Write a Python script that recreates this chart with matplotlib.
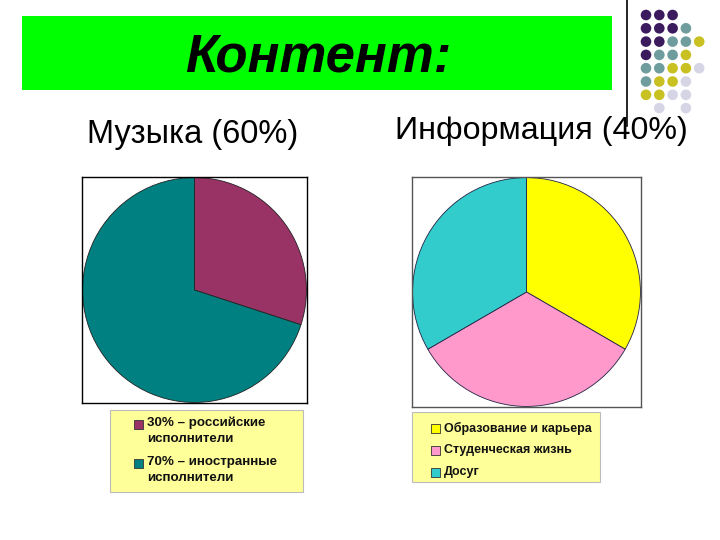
import matplotlib
matplotlib.use("Agg")
import matplotlib.pyplot as plt
from matplotlib.patches import Rectangle, Circle

plt.rcParams['font.family'] = ['Liberation Sans', 'DejaVu Sans']

title = "Контент:"
music_title = "Музыка (60%)"
info_title = "Информация (40%)"

music_labels = ["30% – российские\nисполнители", "70% – иностранные\nисполнители"]
music_values = [30, 70]
music_colors = ["#993366", "#008080"]

info_labels = ["Образование и карьера", "Студенческая жизнь", "Досуг"]
info_values = [1, 1, 1]
info_colors = ["#FFFF00", "#FF99CC", "#33CCCC"]

W, H = 720, 540
fig = plt.figure(figsize=(7.2, 5.4), dpi=100)
fig.patch.set_facecolor("white")


def ax_px(x0, y0, x1, y1):
    return fig.add_axes([x0 / W, 1 - y1 / H, (x1 - x0) / W, (y1 - y0) / H])


# background overlay axes in pixel coordinates
bg = fig.add_axes([0, 0, 1, 1])
bg.set_xlim(0, W)
bg.set_ylim(H, 0)
bg.axis("off")
bg.add_patch(Rectangle((22, 16), 590, 74, facecolor="#00FF00", edgecolor="none"))
bg.text(318, 57, title, fontsize=38, fontweight="bold", fontstyle="italic",
        ha="center", va="center", color="black")
bg.plot([627, 627], [0, 126], color="black", lw=1.2)

# decorative dots
dot_grid = [
    "PPP..",
    "PPPG.",
    "PPGGY",
    "PGGY.",
    "GGYYL",
    "GYYL.",
    "YYLL.",
    ".L.L.",
]
dot_cols = {"P": "#3B1A5E", "G": "#6F9C9C", "Y": "#C9C022", "L": "#D5D5E6"}
for r, row in enumerate(dot_grid):
    for c, ch in enumerate(row):
        if ch in dot_cols:
            bg.add_patch(Circle((646 + c * 13.3, 15 + r * 13.3), 5.3,
                                facecolor=dot_cols[ch], edgecolor="none"))

bg.text(192.5, 134, music_title, fontsize=23.5, ha="center", va="center")
bg.text(541, 131, info_title, fontsize=23.2, ha="center", va="center")

# left pie
axl = ax_px(82, 177, 307, 403)
axl.pie(music_values, colors=music_colors, startangle=90, counterclock=False,
        wedgeprops=dict(edgecolor="#222222", linewidth=0.6))
axl.set_xlim(-1.005, 1.005)
axl.set_ylim(-1.005, 1.005)
axl.set_aspect("auto")
axl.set_xticks([]); axl.set_yticks([])
axl.set_frame_on(True)
for s in axl.spines.values():
    s.set_color("black"); s.set_linewidth(1.0)

# right pie
axr = ax_px(412, 177, 641, 407)
axr.pie(info_values, colors=info_colors, startangle=90, counterclock=False,
        wedgeprops=dict(edgecolor="#222244", linewidth=0.6))
axr.set_xlim(-1.005, 1.005)
axr.set_ylim(-1.005, 1.005)
axr.set_aspect("auto")
axr.set_xticks([]); axr.set_yticks([])
axr.set_frame_on(True)
for s in axr.spines.values():
    s.set_color("#555555"); s.set_linewidth(1.0)

# legends
bg.add_patch(Rectangle((110, 410), 193, 82, facecolor="#FFFF99", edgecolor="#BBBBBB", lw=0.8))
ly = [424, 463]
for lab, col, y in zip(music_labels, music_colors, ly):
    bg.add_patch(Rectangle((134, y - 4.5), 9, 9, facecolor=col, edgecolor="#333333", lw=0.6))
    bg.text(147, y - 7.5, lab, fontsize=9.6, fontweight="bold", ha="left", va="top",
            linespacing=1.45, color="#111111")

bg.add_patch(Rectangle((412, 412), 188, 70, facecolor="#FFFF99", edgecolor="#BBBBBB", lw=0.8))
ry = [428, 450, 472]
for lab, col, y in zip(info_labels, info_colors, ry):
    bg.add_patch(Rectangle((431, y - 4.5), 9, 9, facecolor=col, edgecolor="#333333", lw=0.6))
    bg.text(444, y, lab, fontsize=9.0, fontweight="bold", ha="left", va="center",
            color="#111111")

fig.savefig("out.png", dpi=100)
